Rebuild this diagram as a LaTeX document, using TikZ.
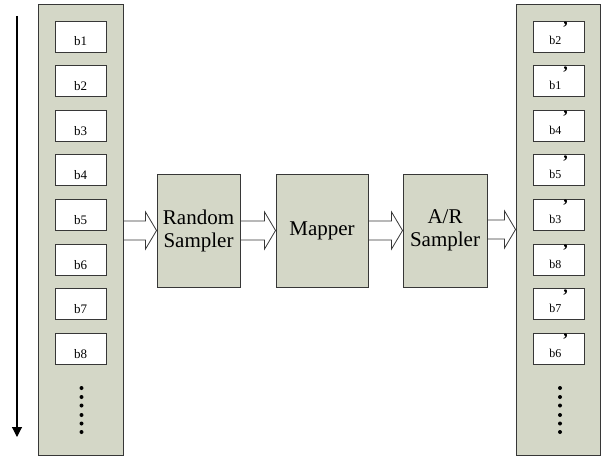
\documentclass[tikz,border=0pt]{standalone}
\usepackage{fontspec}
\setmainfont{Liberation Serif}
\usetikzlibrary{arrows.meta,calc}
\definecolor{panel}{RGB}{212,215,199}
\definecolor{edge}{RGB}{55,55,55}
% hollow block arrow from the east side of #1 to the west side of #2
\newcommand{\fatarrow}[2]{%
\draw[edge, line width=0.8pt] ($(#1.east |- #2.west)+(0,-9.5)$) -- ($(#2.west)+(-11,-9.5)$) -- ($(#2.west)+(-11,-18.5)$) -- (#2.west) -- ($(#2.west)+(-11,18.5)$) -- ($(#2.west)+(-11,9.5)$) -- ($(#1.east |- #2.west)+(0,9.5)$);}
\newcommand{\pr}{\raisebox{20.5pt}{\fontsize{18}{18}\selectfont\textbf{,}}}
\begin{document}
\begin{tikzpicture}[x=1pt,y=-1pt,
  col/.style={draw=edge, fill=panel, line width=0.9pt, minimum width=85pt, minimum height=451pt, inner sep=0pt},
  blk/.style={draw=edge, fill=white, line width=0.7pt, minimum width=51pt, minimum height=31pt, inner sep=0pt, text height=19pt, text depth=0pt, font=\fontsize{13}{13}\selectfont},
  blkr/.style={blk, text height=17pt, font=\fontsize{12}{12}\selectfont},
  proc/.style={draw=edge, fill=panel, line width=0.9pt, minimum height=113pt, inner sep=0pt, align=center, font=\fontsize{21}{23}\selectfont},
  dot/.style={circle, fill, inner sep=0pt, minimum size=4pt}]
\useasboundingbox (0,0) rectangle (605,460);
% order arrow
\coordinate (otop) at (17,16);
\coordinate (obot) at (17,437);
\draw[line width=1.1pt, -{Triangle[length=10pt,width=10pt]}] (otop) -- (obot);
% input column
\node[col] (inp) at (80.5,229.5){};
\node[blk] (b1) at (80.5,36.5){b1};
\node[blk] (b2) at (80.5,81.1){b2};
\node[blk] (b3) at (80.5,125.7){b3};
\node[blk] (b4) at (80.5,170.3){b4};
\node[blk] (b5) at (80.5,214.9){b5};
\node[blk] (b6) at (80.5,259.5){b6};
\node[blk] (b7) at (80.5,304.1){b7};
\node[blk] (b8) at (80.5,348.7){b8};
\node[dot] (ld1) at (81.5,388){};
\node[dot] (ld2) at (81.5,397){};
\node[dot] (ld3) at (81.5,405.5){};
\node[dot] (ld4) at (81.5,415){};
\node[dot] (ld5) at (81.5,423.5){};
\node[dot] (ld6) at (81.5,432){};
% output column
\node[col, minimum width=84pt] (outp) at (558,229.5){};
\node[blkr] (c2) at (558.5,36.5){b2\hspace{2pt}\pr\hspace{2pt}};
\node[blkr] (c1) at (558.5,81.1){b1\hspace{2pt}\pr\hspace{2pt}};
\node[blkr] (c4) at (558.5,125.7){b4\hspace{2pt}\pr\hspace{2pt}};
\node[blkr] (c5) at (558.5,170.3){b5\hspace{2pt}\pr\hspace{2pt}};
\node[blkr] (c3) at (558.5,214.9){b3\hspace{2pt}\pr\hspace{2pt}};
\node[blkr] (c8) at (558.5,259.5){b8\hspace{2pt}\pr\hspace{2pt}};
\node[blkr] (c7) at (558.5,304.1){b7\hspace{2pt}\pr\hspace{2pt}};
\node[blkr] (c6) at (558.5,348.7){b6\hspace{2pt}\pr\hspace{2pt}};
\node[dot] (rd1) at (560,388){};
\node[dot] (rd2) at (560,397){};
\node[dot] (rd3) at (560,405.5){};
\node[dot] (rd4) at (560,415){};
\node[dot] (rd5) at (560,423.5){};
\node[dot] (rd6) at (560,432){};
% stages
\node[proc, minimum width=83pt] (rs) at (198.5,230.5){Random\\Sampler};
\node[proc, minimum width=92pt] (map) at (322,230.5){Mapper};
\node[proc, minimum width=84pt] (ar) at (445,230.5){A/R\\Sampler};
\fatarrow{inp}{rs}
\fatarrow{rs}{map}
\fatarrow{map}{ar}
\fatarrow{ar}{outp}
\end{tikzpicture}
\end{document}
